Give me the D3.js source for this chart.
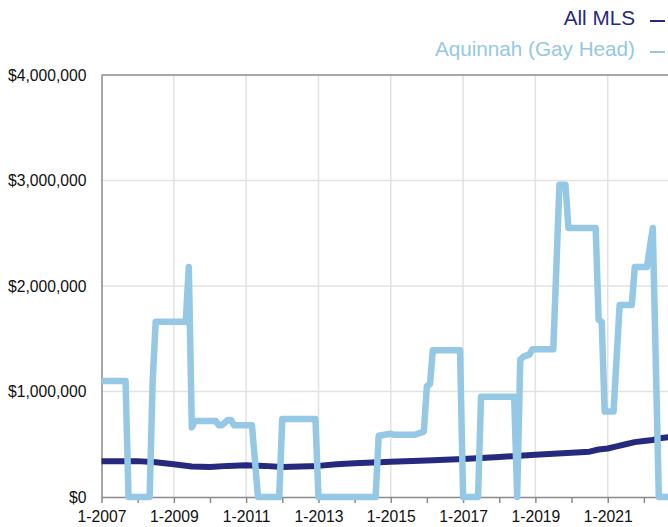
<!DOCTYPE html>
<html>
<head>
<meta charset="utf-8">
<script src="https://cdn.jsdelivr.net/npm/d3@7"></script>
<style>
  body { margin: 0; background: #fff; }
  svg { display: block; font-family: "Liberation Sans", Arial, Helvetica, sans-serif; }
</style>
</head>
<body>
<div id="chart"></div>
<script>
// series names
const seriesNames = ["All MLS", "Aquinnah (Gay Head)"];

// All MLS median price
const mlsDates = ["2007-01", "2008-01", "2008-07", "2009-01", "2009-07", "2010-01", "2010-07",
  "2011-01", "2011-07", "2012-01", "2012-07", "2013-01", "2013-07", "2014-01", "2015-01",
  "2016-01", "2017-01", "2018-01", "2019-01", "2019-07", "2020-01", "2020-07", "2020-10",
  "2021-01", "2021-04", "2021-07", "2021-10", "2022-01", "2022-04", "2022-07", "2022-10"];
const mlsValues = [340000, 340000, 330000, 310000, 290000, 285000, 295000,
  300000, 295000, 285000, 290000, 295000, 310000, 320000, 335000,
  345000, 360000, 380000, 400000, 410000, 420000, 430000, 450000,
  460000, 480000, 500000, 520000, 530000, 540000, 560000, 570000];

// Aquinnah median price
const aqDates = ["2007-01", "2007-09", "2007-10", "2008-05", "2008-06", "2008-07", "2009-05",
  "2009-06", "2009-07", "2009-08", "2010-03", "2010-04", "2010-05", "2010-07", "2010-08",
  "2010-09", "2011-03", "2011-05", "2011-12", "2012-01", "2012-12", "2013-01", "2014-08",
  "2014-09", "2015-01", "2015-02", "2015-09", "2015-10", "2015-12", "2016-01", "2016-02",
  "2016-03", "2016-12", "2017-01", "2017-06", "2017-07", "2018-06", "2018-07", "2018-08",
  "2018-09", "2018-11", "2018-12", "2019-07", "2019-09", "2019-11", "2019-12", "2020-09",
  "2020-10", "2020-11", "2020-12", "2021-03", "2021-05", "2021-09", "2021-10", "2022-02",
  "2022-04", "2022-06", "2023-01"];
const aqValues = [1100000, 1100000, 0, 0, 1100000, 1660000, 1660000,
  2180000, 660000, 720000, 720000, 680000, 680000, 730000, 730000,
  680000, 680000, 0, 0, 740000, 740000, 0, 0,
  580000, 600000, 590000, 590000, 600000, 620000, 1050000, 1070000,
  1390000, 1390000, 0, 0, 950000, 950000, 0, 1300000,
  1330000, 1350000, 1400000, 1400000, 2960000, 2960000, 2550000, 2550000,
  1680000, 1660000, 810000, 810000, 1820000, 1820000, 2180000, 2180000,
  2550000, 0, 0];

// axis ticks
const yTicks = [0, 1000000, 2000000, 3000000, 4000000];
const xTickYears = d3.range(2007, 2023);
const xLabelYears = [2007, 2009, 2011, 2013, 2015, 2017, 2019, 2021];

const colors = ["#262a7f", "#94c8e4"];

const W = 668, H = 527;
const parseMonth = d3.timeParse("%Y-%m");

const x = d3.scaleTime()
  .domain([new Date(2007, 0, 1), new Date(2023, 0, 1)])
  .range([101.5, 680]);
const y = d3.scaleLinear()
  .domain([0, 4000000])
  .range([497, 75]);

const svg = d3.select("#chart").append("svg")
  .attr("width", W)
  .attr("height", H);

// gridlines
svg.append("g")
  .selectAll("line")
  .data(xLabelYears.slice(1))
  .enter().append("line")
  .attr("x1", d => x(new Date(d, 0, 1)))
  .attr("x2", d => x(new Date(d, 0, 1)))
  .attr("y1", y(4000000))
  .attr("y2", y(0))
  .attr("stroke", "#e2e2e2")
  .attr("stroke-width", 1.5);

svg.append("g")
  .selectAll("line")
  .data(yTicks.slice(1, -1))
  .enter().append("line")
  .attr("x1", x.range()[0])
  .attr("x2", W)
  .attr("y1", d => y(d))
  .attr("y2", d => y(d))
  .attr("stroke", "#e2e2e2")
  .attr("stroke-width", 1.5);

// top frame line
svg.append("line")
  .attr("x1", x.range()[0]).attr("x2", W)
  .attr("y1", y(4000000)).attr("y2", y(4000000))
  .attr("stroke", "#8a8a8a").attr("stroke-width", 1.5);

// y axis
const yAxis = d3.axisLeft(y)
  .tickValues(yTicks)
  .tickSize(0)
  .tickPadding(15)
  .tickFormat(d => "$" + d3.format(",")(d));

const gy = svg.append("g")
  .attr("transform", "translate(" + x.range()[0] + ",0)")
  .call(yAxis);
gy.select(".domain").attr("stroke", "#8a8a8a").attr("stroke-width", 1.5);
gy.selectAll("text")
  .style("font-size", "15.7px")
  .attr("fill", "#111");

// x axis
const xAxis = d3.axisBottom(x)
  .tickValues(xTickYears.map(d => new Date(d, 0, 1)))
  .tickSize(6)
  .tickSizeOuter(0)
  .tickPadding(8)
  .tickFormat(d => xLabelYears.indexOf(d.getFullYear()) >= 0 ? "1-" + d.getFullYear() : "");

const gx = svg.append("g")
  .attr("transform", "translate(0," + y(0) + ")")
  .call(xAxis);
gx.select(".domain").attr("stroke", "#8a8a8a").attr("stroke-width", 1.5);
gx.selectAll(".tick line").attr("stroke", "#8a8a8a").attr("stroke-width", 1.5);
gx.selectAll("text")
  .style("font-size", "15.7px")
  .attr("fill", "#111");

// lines
const line = d3.line()
  .x(d => x(d.date))
  .y(d => y(d.value));

const mls = mlsDates.map((d, i) => ({ date: parseMonth(d), value: mlsValues[i] }));
const aq = aqDates.map((d, i) => ({ date: parseMonth(d), value: aqValues[i] }));

svg.append("path")
  .datum(mls)
  .attr("d", line)
  .attr("fill", "none")
  .attr("stroke", colors[0])
  .attr("stroke-width", 6)
  .attr("stroke-linejoin", "round");

svg.append("path")
  .datum(aq)
  .attr("d", line)
  .attr("fill", "none")
  .attr("stroke", colors[1])
  .attr("stroke-width", 6.5)
  .attr("stroke-linejoin", "round");

// legend
const legend = svg.append("g");
seriesNames.forEach(function (name, i) {
  const ly = 25 + i * 31;
  legend.append("text")
    .attr("x", 635)
    .attr("y", ly)
    .attr("text-anchor", "end")
    .style("font-size", "20.7px")
    .attr("fill", colors[i])
    .text(name);
  legend.append("line")
    .attr("x1", 650).attr("x2", 665)
    .attr("y1", ly - 4).attr("y2", ly - 4)
    .attr("stroke", colors[i])
    .attr("stroke-width", 2);
});
</script>
</body>
</html>
